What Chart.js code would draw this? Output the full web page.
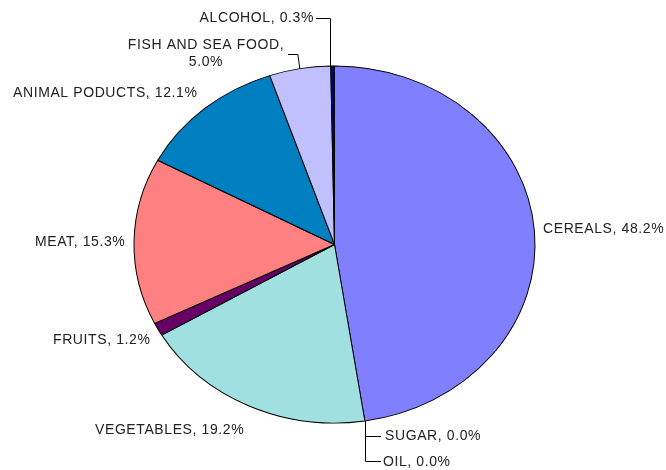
<!DOCTYPE html>
<html>
<head>
<meta charset="utf-8">
<script src="https://cdn.jsdelivr.net/npm/chart.js@4"></script>
<style>
  html, body { margin: 0; padding: 0; background: #fff; }
  #chart { display: block; }
</style>
</head>
<body>
<canvas id="chart" width="666" height="470"></canvas>
<script>
// data, clockwise from 12 o'clock
const categories = ['CEREALS', 'SUGAR', 'OIL', 'VEGETABLES', 'FRUITS', 'MEAT', 'ANIMAL PODUCTS', 'FISH AND SEA FOOD', 'ALCOHOL'];
const shares = [48.2, 0.0, 0.0, 19.2, 1.2, 15.3, 12.1, 5.0, 0.3];
const sliceColors = ['#8080FF', '#FFFFC0', '#C0FFC0', '#A0E0E0', '#660066', '#FF8080', '#0080C0', '#C0C0FF', '#000080'];

// ellipse the pie is squashed into
const ELL = { cx: 334.5, cy: 244.5, rx: 200.5, ry: 178.5 };

// where Excel put each label (text anchor, alignment)
const labelPlaces = [
    { x: 543, y: 229, align: 'left' },   // cereals
    { x: 385, y: 436, align: 'left' },   // sugar
    { x: 383, y: 462, align: 'left' },   // oil
    { x: 95, y: 430, align: 'left' },    // vegetables
    { x: 53, y: 340, align: 'left' },    // fruits
    { x: 35, y: 242, align: 'left' },    // meat
    { x: 13, y: 93, align: 'left' },     // animal products
    { x: 206, y: 45, align: 'center' },  // fish (two lines)
    { x: 314, y: 18, align: 'right' }    // alcohol
];

function ellipsePoint(angle) {
    return { x: ELL.cx + ELL.rx * Math.cos(angle), y: ELL.cy + ELL.ry * Math.sin(angle) };
}

const ellipsePlugin = {
    id: 'ellipse',
    beforeDatasetsDraw(chart) {
        const arc = chart.getDatasetMeta(0).data[0];
        const ctx = chart.ctx;
        ctx.save();
        ctx.translate(ELL.cx, ELL.cy);
        ctx.scale(ELL.rx / arc.outerRadius, ELL.ry / arc.outerRadius);
        ctx.translate(-arc.x, -arc.y);
    },
    afterDatasetsDraw(chart) {
        chart.ctx.restore();
    }
};

const labelPlugin = {
    id: 'pieLabels',
    afterDraw(chart) {
        const ctx = chart.ctx;
        const arcs = chart.getDatasetMeta(0).data;
        ctx.save();
        ctx.font = '14px "Liberation Sans", Arial, sans-serif';
        ctx.letterSpacing = '0.6px';
        ctx.fillStyle = '#222';
        ctx.textBaseline = 'middle';

        categories.forEach((name, i) => {
            const p = labelPlaces[i];
            const text = name + ', ' + shares[i].toFixed(1) + '%';
            ctx.textAlign = p.align;
            if (i === 7) {
                ctx.fillText(name + ',', p.x, p.y);
                ctx.fillText(shares[i].toFixed(1) + '%', p.x, p.y + 17);
            } else {
                ctx.fillText(text, p.x, p.y);
            }
        });

        // leader lines
        ctx.strokeStyle = '#000';
        ctx.lineWidth = 1;
        const mid = a => (a.startAngle + a.endAngle) / 2;

        const alc = ellipsePoint(mid(arcs[8]));
        ctx.beginPath();
        ctx.moveTo(Math.round(alc.x) - 2.5, alc.y);
        ctx.lineTo(Math.round(alc.x) - 2.5, 18.5);
        ctx.lineTo(316, 18.5);
        ctx.stroke();

        const fish = ellipsePoint(mid(arcs[7]));
        ctx.beginPath();
        ctx.moveTo(fish.x, fish.y);
        ctx.lineTo(fish.x - 2, 54.5);
        ctx.lineTo(288, 54.5);
        ctx.stroke();

        const low = ellipsePoint(arcs[0].endAngle);
        const lx = Math.round(low.x) + 0.5;
        ctx.beginPath();
        ctx.moveTo(lx, low.y);
        ctx.lineTo(lx, 461.5);
        ctx.lineTo(381, 461.5);
        ctx.moveTo(lx, 436.5);
        ctx.lineTo(381, 436.5);
        ctx.stroke();
        ctx.restore();
    }
};

new Chart(document.getElementById('chart').getContext('2d'), {
    type: 'pie',
    data: {
        labels: categories,
        datasets: [{
            data: shares,
            backgroundColor: sliceColors,
            borderColor: '#000',
            borderWidth: 1,
            clip: false
        }]
    },
    options: {
        responsive: false,
        animation: false,
        layout: { padding: { left: 134, right: 131, top: 44, bottom: 25 } },
        plugins: {
            legend: { display: false },
            tooltip: { enabled: false }
        }
    },
    plugins: [ellipsePlugin, labelPlugin]
});
</script>
</body>
</html>
